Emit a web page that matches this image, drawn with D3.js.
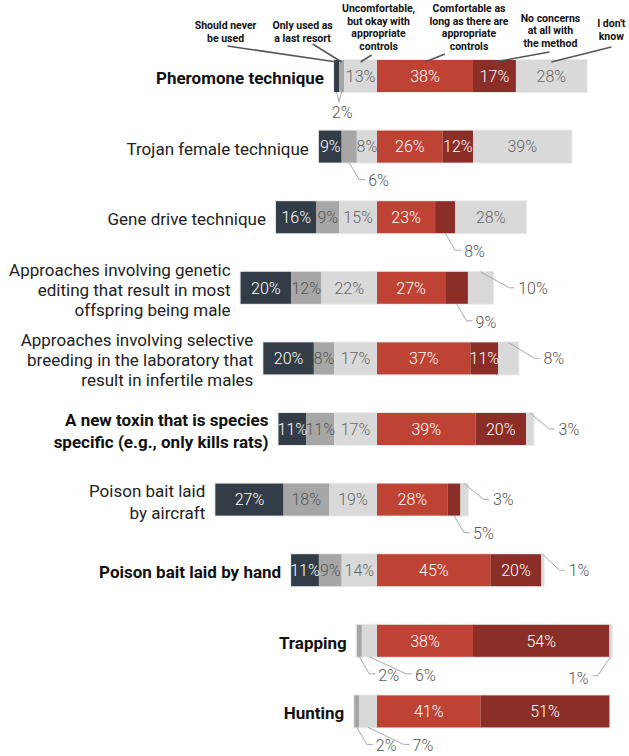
<!DOCTYPE html>
<html><head><meta charset="utf-8">
<script src="https://cdn.jsdelivr.net/npm/d3@7"></script>
<style>body{margin:0;background:#fff;} svg{display:block;}</style>
</head><body>
<script>
// ---------- DATA ----------
const categories = [
  "Pheromone technique",
  "Trojan female technique",
  "Gene drive technique",
  "Approaches involving genetic|editing that result in most|offspring being male",
  "Approaches involving selective|breeding in the laboratory that|result in infertile males",
  "A new toxin that is species|specific (e.g., only kills rats)",
  "Poison bait laid|by aircraft",
  "Poison bait laid by hand",
  "Trapping",
  "Hunting"
];
const boldRows = [true, false, false, false, false, true, false, true, true, true];
const seriesKeys = [
  "Should never|be used",
  "Only used as|a last resort",
  "Uncomfortable,|but okay with|appropriate|controls",
  "Comfortable as|long as there are|appropriate|controls",
  "No concerns|at all with|the method",
  "I don't|know"
];
const neverUsed     = [2, 9, 16, 20, 20, 11, 27, 11, 0, 0];
const lastResort    = [2, 6, 9, 12, 8, 11, 18, 9, 2, 2];
const uncomfortable = [13, 8, 15, 22, 17, 17, 19, 14, 6, 7];
const comfortable   = [38, 26, 23, 27, 37, 39, 28, 45, 38, 41];
const noConcerns    = [17, 12, 8, 9, 11, 20, 5, 20, 54, 51];
const dontKnow      = [28, 39, 28, 10, 8, 3, 3, 1, 1, 0];
const seriesValues = [neverUsed, lastResort, uncomfortable, comfortable, noConcerns, dontKnow];
// segments labelled outside the bar (row index, series index, callout type)
const outsideLabels = [
  {row: 0, keys: [0, 1], type: "v"},
  {row: 1, keys: [1], type: "below"},
  {row: 2, keys: [4], type: "below"},
  {row: 3, keys: [5], type: "right"},
  {row: 3, keys: [4], type: "below"},
  {row: 4, keys: [5], type: "right"},
  {row: 5, keys: [5], type: "right"},
  {row: 6, keys: [5], type: "right"},
  {row: 6, keys: [4], type: "below"},
  {row: 7, keys: [5], type: "right"},
  {row: 8, keys: [1], type: "below"},
  {row: 8, keys: [2], type: "below"},
  {row: 8, keys: [5], type: "belowLeft"},
  {row: 9, keys: [1], type: "below"},
  {row: 9, keys: [2], type: "below"}
];

// ---------- STYLE / LAYOUT ----------
const W = 629, H = 756;
const colors = ["#333d48", "#a6a6a6", "#d9d9d9", "#bf4334", "#8b2e28", "#d9d9d9"];
const textColors = ["#ffffff", "#555555", "#666666", "#ffffff", "#ffffff", "#666666"];
const barH = 32;
// header annotation layout: text centre offset from segment centre, bottom line y, line start offsets
const headerLayout = [
  {dx: -111, bottom: 38, sx: 2, sy: 8},
  {dx: -39, bottom: 38, sx: 10, sy: 6},
  {dx: 18, bottom: 46, sx: -7, sy: 9},
  {dx: 44, bottom: 46, sx: -24, sy: 8},
  {dx: 56, bottom: 43, sx: -1, sy: 9},
  {dx: 60, bottom: 36, sx: 0, sy: 11}
];
const headLH = 12.5;

const svg = d3.select("body").append("svg").attr("width", W).attr("height", H);

const x = d3.scaleLinear().domain([-100, 100]).range([377 - 252.6, 377 + 252.6]);
const y = d3.scalePoint().domain(d3.range(categories.length)).range([76, 711.4]);

// build stacked segments
const rows = categories.map((cat, i) => {
  const v = seriesValues.map(s => s[i]);
  const segs = [];
  let acc = 0;
  [2, 1, 0].forEach(k => { segs[k] = {k, x0: acc - v[k], x1: acc, v: v[k]}; acc -= v[k]; });
  acc = 0;
  [3, 4, 5].forEach(k => { segs[k] = {k, x0: acc, x1: acc + v[k], v: v[k]}; acc += v[k]; });
  return {i, cat, segs, min: -(v[0] + v[1] + v[2]), max: v[3] + v[4] + v[5]};
});

const outsideSet = new Set();
outsideLabels.forEach(o => o.keys.forEach(k => outsideSet.add(o.row + "-" + k)));

const g = svg.append("g");

// faint outline around each bar
g.selectAll("rect.outline").data(rows).join("rect")
  .attr("x", d => x(d.min) - 1).attr("width", d => x(d.max) - x(d.min) + 2)
  .attr("y", d => y(d.i) - barH / 2 - 1).attr("height", barH + 2)
  .attr("fill", "#ececec");

const rowG = g.selectAll("g.row").data(rows).join("g").attr("class", "row");

rowG.selectAll("rect.seg").data(d => d.segs.filter(s => s.v > 0).map(s => ({...s, row: d.i})))
  .join("rect")
  .attr("x", s => x(s.x0)).attr("width", s => x(s.x1) - x(s.x0))
  .attr("y", s => y(s.row) - barH / 2).attr("height", barH)
  .attr("fill", s => colors[s.k]);

// inside labels
rowG.selectAll("text.in").data(d => d.segs.filter(s => s.v > 0 && !outsideSet.has(d.i + "-" + s.k)).map(s => ({...s, row: d.i})))
  .join("text")
  .attr("x", s => (x(s.x0) + x(s.x1)) / 2).attr("y", s => y(s.row)).attr("dy", "0.36em")
  .attr("text-anchor", "middle")
  .attr("font-family", "Roboto, sans-serif").attr("font-weight", 300).attr("font-size", 16)
  .attr("fill", s => textColors[s.k])
  .text(s => s.v + "%");

// row labels
rows.forEach(r => {
  const lines = r.cat.split("|");
  const lh = lines.length > 2 ? 20 : 22;
  const t = g.append("text")
    .attr("text-anchor", "end")
    .attr("font-family", "Roboto, sans-serif")
    .attr("font-size", 17)
    .attr("font-weight", boldRows[r.i] ? 700 : 400)
    .attr("fill", boldRows[r.i] ? "#111" : "#222");
  lines.forEach((ln, j) => {
    t.append("tspan").attr("x", x(r.min) - 10)
      .attr("y", y(r.i) + 2 + (j - (lines.length - 1) / 2) * lh)
      .attr("dy", "0.35em").text(ln);
  });
});

// outside callouts
const calloutG = svg.append("g");
const lastEnd = {};
const textW = s => s.length * 8.9 + 4;
function outText(xp, yp, txt, anchor) {
  calloutG.append("text").attr("x", xp).attr("y", yp).attr("dy", "0.36em")
    .attr("text-anchor", anchor || "start")
    .attr("font-family", "Roboto, sans-serif").attr("font-weight", 300).attr("font-size", 16)
    .attr("fill", "#555").text(txt);
}
function outLine(pts) {
  calloutG.append("path").attr("d", d3.line()(pts))
    .attr("fill", "none").attr("stroke", "#a8a8a8").attr("stroke-width", 1);
}
outsideLabels.forEach(o => {
  const r = rows[o.row];
  const yc = y(o.row), top = yc - barH / 2, bot = yc + barH / 2;
  const seg = r.segs[o.keys[0]];
  const cx = (x(seg.x0) + x(seg.x1)) / 2;
  const txt = seg.v + "%";
  if (o.type === "v") {
    const seg2 = r.segs[o.keys[1]];
    const cx2 = (x(seg2.x0) + x(seg2.x1)) / 2;
    const mid = (cx + cx2) / 2;
    outLine([[cx, bot], [mid, bot + 10]]);
    outLine([[cx2, bot], [mid, bot + 10]]);
    outText(mid + 3, bot + 20, txt, "middle");
  } else if (o.type === "below") {
    let tx = cx + 19;
    if (lastEnd[o.row] !== undefined) tx = Math.max(tx, lastEnd[o.row] + 19);
    lastEnd[o.row] = tx + textW(txt) - 4;
    outLine([[cx, bot], [tx - 9, bot + 17], [tx - 3, bot + 17]]);
    outText(tx, bot + 18, txt);
  } else if (o.type === "right") {
    const br = x(r.max);
    outLine([[cx, top], [br + 16, yc], [br + 21, yc]]);
    outText(br + 25, yc, txt);
  } else if (o.type === "belowLeft") {
    outLine([[cx, bot], [cx - 13, bot + 19], [cx - 18, bot + 19]]);
    outText(cx - 22, bot + 21, txt, "end");
  }
});

// header annotations for the first row
const headG = svg.append("g");
const r0 = rows[0];
const top0 = y(0) - barH / 2;
seriesKeys.forEach((key, k) => {
  const seg = r0.segs[k];
  const cx = (x(seg.x0) + x(seg.x1)) / 2;
  const L = headerLayout[k];
  const tcx = cx + L.dx;
  const lines = key.split("|");
  const t = headG.append("text").attr("text-anchor", "middle")
    .attr("font-family", "Roboto, sans-serif").attr("font-weight", 700)
    .attr("font-size", 10.5).attr("fill", "#111");
  lines.forEach((ln, j) => {
    t.append("tspan").attr("x", tcx)
      .attr("y", L.bottom - (lines.length - 1 - j) * headLH)
      .attr("dy", "0.35em").text(ln);
  });
  headG.append("line")
    .attr("x1", tcx + L.sx).attr("y1", L.bottom + L.sy)
    .attr("x2", cx).attr("y2", top0 + 2)
    .attr("stroke", "#555").attr("stroke-width", 1.5);
});
</script>
</body></html>
